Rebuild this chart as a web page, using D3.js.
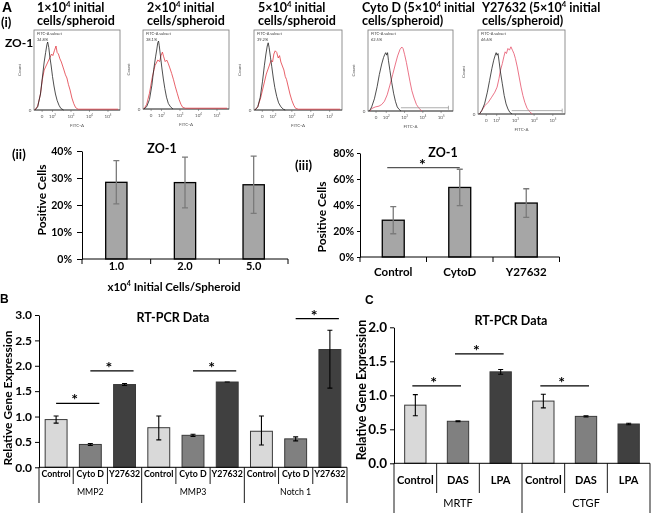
<!DOCTYPE html>
<html>
<head>
<meta charset="utf-8">
<script src="https://cdn.jsdelivr.net/npm/d3@7"></script>
<style>
  body { margin: 0; background: #fff; }
  svg { display: block; will-change: transform; }
</style>
</head>
<body>
<svg width="657" height="513"></svg>
<script>
// ---- Data ----

// (i) flow cytometry histograms: [log10 FITC-A, count as share of plot height]
const flowTitles = [
  ["1×10^4 initial", "cells/spheroid"],
  ["2×10^4 initial", "cells/spheroid"],
  ["5×10^4 initial", "cells/spheroid"],
  ["Cyto D (5×10^4 initial", "cells/spheroid)"],
  ["Y27632 (5×10^4 initial", "cells/spheroid)"],
];
const flowPercents = ["34.8%", "38.1%", "39.2%", "62.5%", "46.6%"];
const flowTicks = [[1.44, "0"], [2, "10^2"], [3, "10^3"], [4, "10^4"], [5, "10^5"]];
const flowControl = [
  [[1.05,0],[1.2,0.04],[1.35,0.2],[1.45,0.4],[1.55,0.6],[1.63,0.72],[1.7,0.82],[1.74,0.85],[1.8,0.78],[1.86,0.66],[1.93,0.55],[2.0,0.42],[2.08,0.3],[2.16,0.2],[2.25,0.12],[2.35,0.06],[2.45,0.02],[2.6,0]],
  [[1.05,0],[1.2,0.03],[1.35,0.12],[1.48,0.3],[1.58,0.5],[1.68,0.66],[1.75,0.76],[1.8,0.84],[1.84,0.86],[1.88,0.8],[1.95,0.66],[2.02,0.52],[2.1,0.38],[2.18,0.26],[2.27,0.15],[2.37,0.07],[2.48,0.03],[2.62,0]],
  [[1.05,0],[1.2,0.04],[1.33,0.16],[1.45,0.36],[1.55,0.56],[1.63,0.7],[1.7,0.8],[1.75,0.84],[1.8,0.78],[1.87,0.66],[1.94,0.54],[2.02,0.4],[2.1,0.28],[2.2,0.17],[2.3,0.09],[2.42,0.04],[2.55,0.01],[2.65,0]],
  [[1.08,0],[1.2,0.05],[1.35,0.15],[1.5,0.3],[1.62,0.45],[1.75,0.58],[1.85,0.66],[1.92,0.7],[1.97,0.72],[2.02,0.69],[2.07,0.72],[2.12,0.62],[2.2,0.5],[2.3,0.35],[2.4,0.22],[2.5,0.12],[2.6,0.05],[2.7,0.02],[2.8,0]],
  [[1.08,0],[1.2,0.04],[1.35,0.12],[1.5,0.26],[1.62,0.4],[1.74,0.54],[1.84,0.64],[1.92,0.7],[1.97,0.73],[2.02,0.7],[2.07,0.72],[2.13,0.62],[2.2,0.5],[2.3,0.36],[2.4,0.22],[2.5,0.12],[2.6,0.06],[2.7,0.02],[2.82,0]],
];
const flowStained = [
  [[1.05,0],[1.2,0.05],[1.35,0.2],[1.45,0.38],[1.55,0.5],[1.65,0.55],[1.75,0.6],[1.85,0.65],[1.95,0.7],[2.02,0.68],[2.1,0.74],[2.19,0.8],[2.25,0.72],[2.32,0.7],[2.4,0.64],[2.48,0.6],[2.55,0.55],[2.62,0.5],[2.7,0.44],[2.78,0.4],[2.86,0.32],[2.95,0.25],[3.05,0.15],[3.15,0.08],[3.25,0.03],[3.38,0.01],[5.55,0.01]],
  [[1.05,0],[1.2,0.06],[1.35,0.2],[1.5,0.4],[1.65,0.55],[1.8,0.62],[1.9,0.6],[1.98,0.68],[2.05,0.72],[2.12,0.66],[2.2,0.6],[2.28,0.62],[2.36,0.58],[2.45,0.52],[2.55,0.45],[2.65,0.37],[2.75,0.28],[2.85,0.2],[2.95,0.12],[3.05,0.06],[3.15,0.02],[3.3,0.01],[5.55,0.01]],
  [[1.05,0],[1.2,0.04],[1.35,0.15],[1.5,0.3],[1.65,0.45],[1.8,0.55],[1.9,0.62],[1.98,0.6],[2.05,0.7],[2.12,0.74],[2.2,0.72],[2.28,0.65],[2.35,0.68],[2.42,0.6],[2.5,0.55],[2.58,0.5],[2.65,0.42],[2.72,0.38],[2.8,0.3],[2.9,0.2],[3.0,0.12],[3.1,0.06],[3.2,0.02],[3.35,0.01],[5.55,0.01]],
  [[1.1,0],[1.2,0.03],[1.4,0.05],[1.6,0.06],[1.75,0.08],[1.9,0.12],[2.05,0.2],[2.2,0.32],[2.35,0.45],[2.5,0.58],[2.62,0.68],[2.75,0.76],[2.85,0.79],[2.92,0.77],[3.0,0.7],[3.1,0.6],[3.2,0.48],[3.3,0.36],[3.4,0.25],[3.52,0.16],[3.65,0.08],[3.8,0.03],[3.95,0]],
  [[1.08,0],[1.2,0.04],[1.37,0.1],[1.55,0.14],[1.73,0.2],[1.9,0.26],[2.02,0.32],[2.12,0.42],[2.2,0.52],[2.3,0.6],[2.38,0.68],[2.45,0.74],[2.52,0.72],[2.6,0.78],[2.68,0.76],[2.76,0.8],[2.84,0.76],[2.92,0.72],[3.0,0.66],[3.1,0.56],[3.2,0.44],[3.3,0.32],[3.4,0.22],[3.5,0.14],[3.62,0.07],[3.75,0.03],[3.9,0]],
];
const flowGates = [null, null, null, [2.8, 5.4], [2.8, 5.5]];

// (ii) ZO-1 positive cells by seeding density
const densityLabels = ["1.0", "2.0", "5.0"];
const densityValues = [0.284, 0.283, 0.275];
const densityErrors = [0.08, 0.094, 0.106];
const densityTicks = [0, 0.1, 0.2, 0.3, 0.4];

// (iii) ZO-1 positive cells by treatment
const drugLabels = ["Control", "CytoD", "Y27632"];
const drugValues = [0.283, 0.535, 0.415];
const drugErrors = [0.104, 0.14, 0.11];
const drugTicks = [0, 0.2, 0.4, 0.6, 0.8];
const drugSig = [{ a: 0, b: 1, y: 0.687 }];

// B RT-PCR
const genesB = ["MMP2", "MMP3", "Notch 1"];
const treatB = ["Control", "Cyto D", "Y27632"];
const valuesB = [[0.94, 0.45, 1.63], [0.78, 0.63, 1.68], [0.71, 0.56, 2.32]];
const lowB = [[0.87, 0.43, 1.61], [0.54, 0.61, 1.68], [0.44, 0.52, 1.56]];
const highB = [[1.01, 0.47, 1.65], [1.01, 0.65, 1.68], [1.01, 0.60, 2.70]];
const ticksB = [0, 0.5, 1, 1.5, 2, 2.5, 3];
const sigB = [
  { gene: 0, a: 0, b: 1, y: 1.26 },
  { gene: 0, a: 1, b: 2, y: 1.9 },
  { gene: 1, a: 1, b: 2, y: 1.9 },
  { gene: 2, a: 1, b: 2, y: 2.93 },
];

// C RT-PCR
const genesC = ["MRTF", "CTGF"];
const treatC = ["Control", "DAS", "LPA"];
const valuesC = [[0.855, 0.618, 1.345], [0.915, 0.69, 0.578]];
const errorsC = [[0.155, 0.006, 0.035], [0.1, 0.01, 0.012]];
const ticksC = [0, 0.5, 1, 1.5, 2];
const sigC = [
  { gene: 0, a: 0, b: 1, y: 1.14 },
  { gene: 0, a: 1, b: 2, y: 1.61 },
  { gene: 1, a: 0, b: 1, y: 1.14 },
];

const barFills = ["#d9d9d9", "#808080", "#404040"];

// ---- Drawing ----
const FONT = "Lato, 'Open Sans', sans-serif";
const svg = d3.select("svg").attr("font-family", FONT);

// Text with ^n superscripts.
function addText(g, str, x, y, size, opts = {}) {
  const t = g.append("text")
    .attr("x", x).attr("y", y)
    .attr("font-size", size)
    .attr("font-weight", opts.weight || 700)
    .attr("font-family", opts.family || FONT)
    .attr("text-anchor", opts.anchor || "start")
    .attr("fill", opts.fill || "#000");
  if (opts.rotate) t.attr("transform", `rotate(${opts.rotate},${x},${y})`);
  let raised = false;
  str.split(/\^(\d)/).forEach((b, k) => {
    if (!b) return;
    const ts = t.append("tspan").text(b);
    if (k % 2 === 1) {
      ts.attr("font-size", size * 0.62).attr("dy", -size * 0.4);
      raised = true;
    } else if (raised) {
      ts.attr("dy", size * 0.4);
      raised = false;
    }
  });
  return t;
}

function star(g, x, yLine) {
  addText(g, "*", x - 3, yLine + 2, 16, { anchor: "middle" });
}

// Panel letters
addText(svg, "A", 2, 12, 14, { family: "'Liberation Sans', Arial, sans-serif" });
addText(svg, "(i)", 1, 27, 13);
addText(svg, "ZO-1", 5, 47, 12);
addText(svg, "B", 0, 303, 12, { family: "'Liberation Sans', Arial, sans-serif" });
addText(svg, "C", 365, 304, 12, { family: "'Liberation Sans', Arial, sans-serif" });

// (i) flow histograms
const flowBoxes = [[34, 30, 86, 80], [143, 30, 86, 79], [254, 30, 88, 80], [368, 30, 85, 81], [478, 30, 87, 84]];
const flowTitleX = [37, 147, 258, 362, 482];

flowBoxes.forEach(([bx, by, bw, bh], i) => {
  const g = svg.append("g");
  const fx = d3.scaleLinear().domain([1, 5.65]).range([bx, bx + bw]);
  const fy = d3.scaleLinear().domain([0, 1]).range([by + bh, by]);

  addText(g, flowTitles[i][0], flowTitleX[i], 12, 12.5);
  addText(g, flowTitles[i][1], flowTitleX[i], 25, 12.5);

  g.append("rect")
    .attr("x", bx).attr("y", by).attr("width", bw).attr("height", bh)
    .attr("fill", "none").attr("stroke", "#777").attr("stroke-width", 0.8);
  g.append("line")
    .attr("x1", bx).attr("x2", bx + bw).attr("y1", by + bh).attr("y2", by + bh)
    .attr("stroke", "#333").attr("stroke-width", 0.8);

  const line = d3.line().x((d) => fx(d[0])).y((d) => fy(d[1]));
  g.append("path").datum(flowStained[i]).attr("d", line)
    .attr("fill", "none").attr("stroke", i < 3 ? "#e23a44" : "#e6506a").attr("stroke-width", 0.8);
  g.append("path").datum(flowControl[i]).attr("d", line)
    .attr("fill", "none").attr("stroke", "#222").attr("stroke-width", 0.8);

  if (flowGates[i]) {
    const [g0, g1] = flowGates[i];
    g.append("path")
      .attr("d", `M${fx(g0)},${fy(0.04)}H${fx(g1)}M${fx(g1)},${fy(0.04) - 2}V${fy(0.04) + 2}`)
      .attr("fill", "none").attr("stroke", "#999").attr("stroke-width", 0.8);
  }

  g.selectAll("line.tk").data(flowTicks).join("line")
    .attr("x1", (d) => fx(d[0])).attr("x2", (d) => fx(d[0]))
    .attr("y1", by + bh).attr("y2", by + bh + 2)
    .attr("stroke", "#555").attr("stroke-width", 0.5);
  flowTicks.forEach((d) => addText(g, d[1], fx(d[0]), by + bh + 8, 4.5, { anchor: "middle", weight: 400, fill: "#555" }));
  addText(g, "FITC-A", bx + bw / 2, by + bh + 17, 4.5, { anchor: "middle", weight: 400, fill: "#555" });
  addText(g, "0", bx - 4, by + bh + 1.5, 4.5, { anchor: "middle", weight: 400, fill: "#555" });
  addText(g, "Count", bx - 13, by + bh / 2, 4.5, { anchor: "middle", weight: 400, fill: "#555", rotate: -90 });
  addText(g, "FITC-A subset", bx + 3, by + 5, 4, { weight: 400, fill: "#444" });
  addText(g, flowPercents[i], bx + 3, by + 11, 4, { weight: 400, fill: "#444" });
});

// (ii) / (iii) ZO-1 bar charts
function zoChart(o) {
  const g = svg.append("g");
  const x = d3.scaleBand().domain(o.labels).range(o.xr).paddingInner(o.pad).paddingOuter(o.pad / 2);
  const y = d3.scaleLinear().domain([0, o.ymax]).range(o.yr);

  const ya = g.append("g").attr("transform", `translate(${o.xr[0]},0)`)
    .call(d3.axisLeft(y).tickValues(o.ticks).tickFormat(d3.format(".0%"))
      .tickSize(o.tickSize).tickSizeOuter(0).tickPadding(o.tickPad));
  ya.attr("font-family", FONT).attr("font-size", o.tickFont).attr("font-weight", 700);
  ya.selectAll("path, line").attr("stroke", "#000").attr("stroke-width", 1);

  g.selectAll("rect.bar").data(o.values).join("rect")
    .attr("x", (d, i) => x(o.labels[i])).attr("y", (d) => y(d))
    .attr("width", x.bandwidth()).attr("height", (d) => y(0) - y(d))
    .attr("fill", "#a6a6a6").attr("stroke", "#000").attr("stroke-width", 1.3);

  o.values.forEach((v, i) => {
    const cx = x(o.labels[i]) + x.bandwidth() / 2;
    const y1 = y(v + o.errors[i]), y2 = y(v - o.errors[i]);
    g.append("path")
      .attr("d", `M${cx},${y1}V${y2}M${cx - 3},${y1}H${cx + 3}M${cx - 3},${y2}H${cx + 3}`)
      .attr("fill", "none").attr("stroke", "#7a7a7a").attr("stroke-width", 1.3);
    addText(g, o.labels[i], cx, o.labelY, o.labelFont, { anchor: "middle" });
  });

  g.append("line").attr("x1", o.xr[0]).attr("x2", o.xr[1]).attr("y1", y(0)).attr("y2", y(0))
    .attr("stroke", "#000");
  d3.range(o.labels.length + 1).forEach((k) => {
    const tx = o.xr[0] + k * x.step();
    g.append("line").attr("x1", tx).attr("x2", tx).attr("y1", y(0)).attr("y2", y(0) + 5).attr("stroke", "#000");
  });

  (o.sig || []).forEach((s) => {
    const xa = x(o.labels[s.a]) + x.bandwidth() / 2 - 6;
    const xb = x(o.labels[s.b]) + x.bandwidth() / 2;
    g.append("line").attr("x1", xa).attr("x2", xb).attr("y1", y(s.y)).attr("y2", y(s.y))
      .attr("stroke", "#555").attr("stroke-width", 1.3);
    star(g, (xa + xb) / 2 + 2, y(s.y));
  });

  addText(g, "ZO-1", o.title[0], o.title[1], 12.5, { anchor: "middle" });
  addText(g, "Positive Cells", o.ylab[0], o.ylab[1], 12, { anchor: "middle", rotate: -90 });
  addText(g, o.panel, o.panelPos[0], o.panelPos[1], 13);
  return g;
}

const zo2 = zoChart({
  labels: densityLabels, values: densityValues, errors: densityErrors, ticks: densityTicks,
  xr: [82, 288], yr: [259, 151], ymax: 0.4, pad: 0.69,
  tickSize: 5, tickPad: 5, tickFont: 10.5, labelY: 270, labelFont: 11,
  title: [162, 153], ylab: [46, 200], panel: "(ii)", panelPos: [12, 159],
});
addText(zo2, "x10^4 Initial Cells/Spheroid", 174, 291, 11.5, { anchor: "middle" });

zoChart({
  labels: drugLabels, values: drugValues, errors: drugErrors, ticks: drugTicks, sig: drugSig,
  xr: [360, 559.5], yr: [257, 153], ymax: 0.8, pad: 0.67,
  tickSize: 3, tickPad: 3, tickFont: 10.5, labelY: 276, labelFont: 11.5,
  title: [443, 157], ylab: [326, 217], panel: "(iii)", panelPos: [295, 170],
});

// B / C RT-PCR charts with two-level category axis
function pcrChart(o) {
  const g = svg.append("g");
  const bars = [];
  o.genes.forEach((gene, gi) => o.treat.forEach((t, ti) => {
    bars.push({
      gi, ti, key: gi + "-" + ti, label: t, v: o.values[gi][ti],
      lo: o.low[gi][ti], hi: o.high[gi][ti],
    });
  }));
  const x = d3.scaleBand().domain(bars.map((d) => d.key)).range(o.xr)
    .paddingInner(o.pad).paddingOuter(o.pad / 2);
  const y = d3.scaleLinear().domain([0, o.ymax]).range(o.yr);
  const cx = (k) => x(k) + x.bandwidth() / 2;

  const ya = g.append("g").attr("transform", `translate(${o.xr[0]},0)`)
    .call(d3.axisLeft(y).tickValues(o.ticks).tickFormat(d3.format(".1f"))
      .tickSize(4).tickSizeOuter(0).tickPadding(3));
  ya.attr("font-family", FONT).attr("font-size", o.tickFont).attr("font-weight", 700);
  ya.selectAll("path, line").attr("stroke", "#000").attr("stroke-width", 1);

  g.selectAll("rect.bar").data(bars).join("rect")
    .attr("x", (d) => x(d.key)).attr("y", (d) => y(d.v))
    .attr("width", x.bandwidth()).attr("height", (d) => y(0) - y(d.v))
    .attr("fill", (d) => barFills[d.ti]).attr("stroke", "#3a3a3a").attr("stroke-width", 1);

  g.selectAll("path.err").data(bars).join("path")
    .attr("d", (d) => {
      const c = cx(d.key), y1 = y(d.hi), y2 = y(d.lo);
      return `M${c},${y1}V${y2}M${c - 2.5},${y1}H${c + 2.5}M${c - 2.5},${y2}H${c + 2.5}`;
    })
    .attr("fill", "none").attr("stroke", "#000").attr("stroke-width", 1.1);

  // category axis
  const y0 = y(0);
  g.append("line").attr("x1", o.xr[0]).attr("x2", o.xr[1]).attr("y1", y0).attr("y2", y0).attr("stroke", "#000");
  d3.range(bars.length + 1).forEach((k) => {
    const tx = o.xr[0] + k * x.step();
    const isGroup = k % o.treat.length === 0;
    g.append("line").attr("x1", tx).attr("x2", tx).attr("y1", y0)
      .attr("y2", isGroup ? o.groupBottom : o.subBottom).attr("stroke", "#000").attr("stroke-width", 0.9);
  });
  bars.forEach((d) => addText(g, d.label, cx(d.key), o.subY, o.subFont, { anchor: "middle" }));
  o.genes.forEach((gene, gi) => {
    const gx = o.xr[0] + (gi + 0.5) * o.treat.length * x.step();
    addText(g, gene, gx, o.groupY, o.groupFont, { anchor: "middle", weight: 400 });
  });

  o.sig.forEach((s) => {
    const xa = cx(s.gene + "-" + s.a) + o.sigOff[0];
    const xb = cx(s.gene + "-" + s.b) + o.sigOff[1];
    g.append("line").attr("x1", xa).attr("x2", xb).attr("y1", y(s.y)).attr("y2", y(s.y))
      .attr("stroke", "#000").attr("stroke-width", 1.2);
    star(g, (xa + xb) / 2, y(s.y));
  });

  addText(g, "RT-PCR Data", o.title[0], o.title[1], 12.5, { anchor: "middle" });
  addText(g, "Relative Gene Expression", o.ylab[0], o.ylab[1], o.ylabFont, { anchor: "middle", rotate: -90 });
}

pcrChart({
  genes: genesB, treat: treatB, values: valuesB, low: lowB, high: highB, ticks: ticksB, sig: sigB,
  xr: [39, 347], yr: [467.3, 315], ymax: 3, pad: 0.36, tickFont: 12,
  subY: 477, subFont: 8.8, groupY: 495, groupFont: 8.8, subBottom: 484, groupBottom: 503,
  sigOff: [0, 9], title: [173, 321.5], ylab: [12, 398], ylabFont: 12,
});

pcrChart({
  genes: genesC, treat: treatC, values: valuesC,
  low: valuesC.map((r, gi) => r.map((v, ti) => v - errorsC[gi][ti])),
  high: valuesC.map((r, gi) => r.map((v, ti) => v + errorsC[gi][ti])),
  ticks: ticksC, sig: sigC,
  xr: [394, 650], yr: [463.3, 327.3], ymax: 2, pad: 0.5, tickFont: 13.5,
  subY: 484, subFont: 11, groupY: 507, groupFont: 11, subBottom: 493, groupBottom: 513,
  sigOff: [-3, 3], title: [511, 324.5], ylab: [366, 390], ylabFont: 12.5,
});
</script>
</body>
</html>
